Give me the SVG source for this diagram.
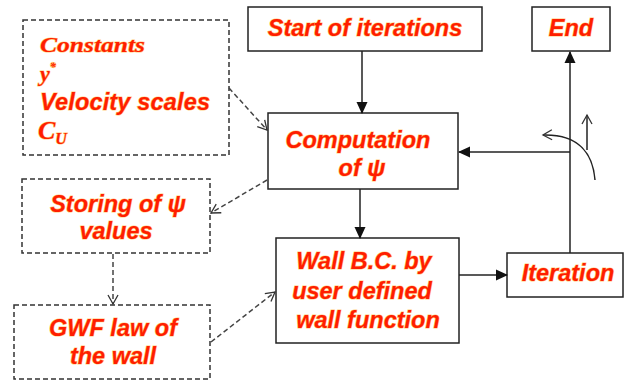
<svg xmlns="http://www.w3.org/2000/svg" width="625" height="380" viewBox="0 0 625 380">
<style>
.box{fill:#fff;stroke:#222;stroke-width:1.5}
.dbox{fill:#fff;stroke:#333;stroke-width:1.5;stroke-dasharray:5 3}
.t{font-family:"Liberation Sans",Arial,sans-serif;font-weight:bold;font-style:italic;font-size:23.5px;fill:#ff1e00;stroke:#ffa000;stroke-width:1.2;stroke-opacity:0.55;paint-order:stroke;text-anchor:middle}
.s{font-family:"Liberation Serif","Times New Roman",serif;font-weight:bold;font-style:italic;fill:#ff1e00;stroke:#ffa000;stroke-width:1.2;stroke-opacity:0.55;paint-order:stroke}
.ln{fill:none;stroke:#222;stroke-width:1.5}
.dl{fill:none;stroke:#444;stroke-width:1.5;stroke-dasharray:5 3}
</style>
<defs>
<marker id="ah" markerWidth="12" markerHeight="12" refX="11" refY="6" orient="auto" markerUnits="userSpaceOnUse">
<path d="M0,0.5 L12,6 L0,11.5 Z" fill="#111"/>
</marker>
<marker id="oh" markerWidth="12" markerHeight="12" refX="10" refY="6" orient="auto" markerUnits="userSpaceOnUse">
<path d="M1,1 L10,6 L1,11" fill="none" stroke="#333" stroke-width="1.3"/>
</marker>
</defs>

<g id="constants">
<rect class="dbox" x="23" y="20" width="206" height="135"/>
<text class="s" x="40" y="52" font-size="22" textLength="105" lengthAdjust="spacingAndGlyphs">Constants</text>
<text class="s" x="40" y="81" font-size="22">y<tspan font-size="12" dy="-10">*</tspan></text>
<text class="t" x="40" y="110" style="text-anchor:start" textLength="170">Velocity scales</text>
<text class="s" x="38" y="139" font-size="26">C<tspan font-size="16" dy="5">U</tspan></text>
</g>

<g id="start">
<rect class="box" x="248" y="7" width="234" height="44"/>
<text class="t" x="365" y="36">Start of iterations</text>
</g>

<g id="end">
<rect class="box" x="532" y="7" width="78" height="44"/>
<text class="t" x="571" y="36">End</text>
</g>

<g id="computation">
<rect class="box" x="268" y="113" width="190" height="76"/>
<text class="t" x="358" y="148">Computation</text>
<text class="t" x="362" y="176">of ψ</text>
</g>

<g id="storing">
<rect class="dbox" x="22" y="179" width="188" height="74"/>
<text class="t" x="118" y="212">Storing of ψ</text>
<text class="t" x="116" y="239">values</text>
</g>

<g id="gwf">
<rect class="dbox" x="14" y="305" width="196" height="74"/>
<text class="t" x="113" y="336">GWF law of</text>
<text class="t" x="113" y="364">the wall</text>
</g>

<g id="wall">
<rect class="box" x="276" y="238" width="183" height="105"/>
<text class="t" x="364" y="269">Wall B.C. by</text>
<text class="t" x="362" y="299">user defined</text>
<text class="t" x="368" y="328">wall function</text>
</g>

<g id="iteration">
<rect class="box" x="507" y="253" width="116" height="44"/>
<text class="t" x="568" y="281">Iteration</text>
</g>

<g id="connectors">
<line class="ln" x1="362" y1="51" x2="362" y2="113" marker-end="url(#ah)"/>
<line class="ln" x1="360" y1="189" x2="360" y2="238" marker-end="url(#ah)"/>
<line class="ln" x1="459" y1="275" x2="507" y2="275" marker-end="url(#ah)"/>
<line class="ln" x1="570" y1="253" x2="570" y2="52" marker-end="url(#ah)"/>
<line class="ln" x1="570" y1="152" x2="459" y2="152" marker-end="url(#ah)"/>
<path class="ln" d="M595,180 C593,155 580,134 543,135" stroke-width="1.3" marker-end="url(#oh)"/>
<line class="ln" x1="587" y1="150" x2="587" y2="115" stroke-width="1.3" marker-end="url(#oh)"/>
<line class="dl" x1="229" y1="88" x2="267" y2="130" marker-end="url(#oh)"/>
<line class="dl" x1="267" y1="180" x2="211" y2="213" marker-end="url(#oh)"/>
<line class="dl" x1="113" y1="254" x2="113" y2="304" marker-end="url(#oh)"/>
<line class="dl" x1="211" y1="342" x2="275" y2="292" marker-end="url(#oh)"/>
</g>
</svg>
